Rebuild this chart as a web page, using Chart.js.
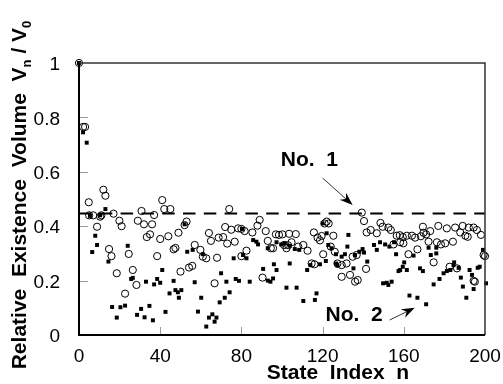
<!DOCTYPE html>
<html>
<head>
<meta charset="UTF-8">
<title>Relative existence volume</title>
<script src="https://cdn.jsdelivr.net/npm/chart.js"></script>
<style>
  body { margin: 0; background: #fff; }
  canvas { display: block; }
</style>
</head>
<body>
<canvas id="myChart" width="503" height="384"></canvas>
<script>
// open circles (No. 1)
const openX = [0, 2, 3, 4.8, 5, 7, 8.9, 10.4, 11, 12, 13, 14.8, 16, 17, 18.6, 19.9, 21, 22.7, 24.5, 26.5,
  28.3, 29, 30.8, 32, 33.4, 35, 36, 37, 38.5, 40, 41, 42, 44, 45, 46.6, 47.5, 49, 50, 52, 53,
  54.2, 55.8, 57, 59.8, 61, 62.7, 64, 65, 66.8, 68, 68.8, 71, 72, 73, 74, 75, 76.7, 78.4, 80, 80,
  81.6, 82.5, 85.4, 87.9, 89, 90.4, 92, 93, 94.5, 95.6, 97, 98.5, 100.2, 101, 102.2, 103, 103.5, 104.7, 106.8, 108,
  110.5, 112.6, 114.6, 115.7, 116, 117.5, 118.7, 119.5, 120.3, 121, 122, 123, 124, 125.3, 126, 127.3, 129.4, 129.4, 131.8, 133.5,
  134.8, 136, 136.8, 137.3, 139.3, 140.4, 141.4, 141.7, 143.7, 146.7, 148.5, 149.6, 152.4, 153.6, 154.9, 156.5, 158, 158.2, 159.5, 159.8,
  161.5, 162.3, 164, 165.6, 166.7, 168.4, 169.4, 169.7, 171, 172.2, 173, 174.7, 176.3, 177, 178.3, 180.4, 181.2, 182.6, 184.2, 185.3,
  186.2, 187.8, 189, 190.3, 191.5, 192, 194.4, 194.4, 195, 196, 198, 199.3, 200];
const openY = [1, 0.765, 0.765, 0.488, 0.44, 0.44, 0.398, 0.435, 0.44, 0.534, 0.512, 0.316, 0.29, 0.446, 0.227, 0.42, 0.40, 0.152, 0.298, 0.239,
  0.184, 0.42, 0.456, 0.407, 0.36, 0.37, 0.407, 0.441, 0.29, 0.353, 0.496, 0.463, 0.363, 0.463, 0.315, 0.32, 0.376, 0.233, 0.404, 0.417,
  0.248, 0.254, 0.331, 0.313, 0.288, 0.282, 0.375, 0.346, 0.19, 0.284, 0.358, 0.36, 0.397, 0.336, 0.463, 0.387, 0.343, 0.392, 0.39, 0.29,
  0.382, 0.31, 0.377, 0.402, 0.423, 0.211, 0.382, 0.346, 0.319, 0.319, 0.37, 0.368, 0.37, 0.331, 0.319, 0.33, 0.372, 0.341, 0.371, 0.325,
  0.331, 0.31, 0.263, 0.377, 0.26, 0.358, 0.348, 0.364, 0.297, 0.41, 0.417, 0.41, 0.325, 0.365, 0.306, 0.263, 0.257, 0.214, 0.263, 0.221,
  0.288, 0.196, 0.294, 0.202, 0.45, 0.419, 0.243, 0.377, 0.386, 0.374, 0.412, 0.398, 0.395, 0.386, 0.333, 0.365, 0.367, 0.341, 0.36, 0.337,
  0.365, 0.297, 0.365, 0.358, 0.315, 0.363, 0.398, 0.376, 0.37, 0.343, 0.382, 0.267, 0.341, 0.401, 0.333, 0.337, 0.392, 0.251, 0.343, 0.395,
  0.245, 0.377, 0.401, 0.365, 0.361, 0.395, 0.395, 0.199, 0.196, 0.386, 0.368, 0.294, 0.29];

// filled squares (No. 2)
const filledX = [0, 2, 3.8, 5.4, 6.5, 8, 8.9, 10.4, 13, 14.5, 16.3, 18.6, 20.4, 22.7, 24, 25.7, 26.5, 28.6, 30.6, 32.3,
  33, 34.7, 36.4, 37, 38.5, 40, 41, 42.6, 44.6, 46.6, 47.5, 48.7, 49.2, 50.4, 52, 53.3, 56, 57, 58.6, 60.2,
  61, 62.7, 64, 65.7, 66.8, 67.7, 69.3, 70, 71.8, 72.6, 74.2, 76.2, 77.2, 78.8, 80.3, 80.8, 82.5, 84.1, 85.8, 87.4,
  88.2, 90.7, 93, 93, 94.3, 95.6, 96, 97.3, 97.3, 99.6, 101.4, 102.2, 103.8, 103.8, 106.3, 107.2, 108.5, 110.5, 112.4, 114,
  116.2, 117, 118.7, 120, 121.6, 122, 122.8, 124.4, 126.6, 126.6, 127.3, 129.4, 131, 132.2, 132.7, 135.2, 136, 138.1, 139.7, 140.4,
  142, 145.3, 146.7, 148.3, 149.8, 150.8, 151.6, 152.4, 152.9, 154, 155.2, 156.2, 157.4, 158.2, 159.5, 160.2, 161.5, 162.8, 164.8, 166.7,
  168, 169.4, 171, 172.2, 173.3, 174.7, 176, 176, 177.6, 179.6, 181.2, 182.9, 184.5, 184.8, 187, 188.1, 189.1, 190.8, 192.4, 193.6,
  194.4, 196.4, 197.4, 199, 200.5];
const filledY = [1, 0.745, 0.707, 0.438, 0.305, 0.365, 0.331, 0.44, 0.463, 0.27, 0.103, 0.064, 0.102, 0.108, 0.328, 0.206, 0.21, 0.074, 0.096, 0.065,
  0.196, 0.107, 0.054, 0.186, 0.206, 0.192, 0.239, 0.085, 0.153, 0.199, 0.165, 0.157, 0.137, 0.165, 0.407, 0.306, 0.313, 0.194, 0.086, 0.137,
  0.297, 0.031, 0.064, 0.076, 0.049, 0.064, 0.12, 0.227, 0.137, 0.196, 0.157, 0.282, 0.206, 0.199, 0.39, 0.294, 0.282, 0.196, 0.349, 0.343,
  0.333, 0.243, 0.319, 0.2, 0.196, 0.208, 0.26, 0.239, 0.341, 0.333, 0.337, 0.174, 0.328, 0.263, 0.316, 0.174, 0.313, 0.125, 0.239, 0.257,
  0.129, 0.153, 0.26, 0.41, 0.272, 0.374, 0.331, 0.319, 0.297, 0.263, 0.255, 0.288, 0.297, 0.325, 0.368, 0.245, 0.294, 0.306, 0.316, 0.303,
  0.27, 0.331, 0.313, 0.341, 0.19, 0.333, 0.192, 0.184, 0.325, 0.196, 0.341, 0.297, 0.235, 0.239, 0.251, 0.267, 0.239, 0.145, 0.292, 0.137,
  0.245, 0.235, 0.113, 0.321, 0.294, 0.186, 0.321, 0.3, 0.206, 0.227, 0.235, 0.239, 0.257, 0.267, 0.247, 0.211, 0.178, 0.137, 0.239, 0.221,
  0.169, 0.247, 0.251, 0.313, 0.19];

const refLevel = 0.447;
const xTicks = [0, 40, 80, 120, 160, 200];
const yTicks = [0, 0.2, 0.4, 0.6, 0.8, 1];

function pairs(xs, ys) {
  return xs.map((x, i) => ({ x: x, y: ys[i] }));
}

// frame, inner ticks, axis titles and the two arrows
const extras = {
  id: 'extras',
  afterDraw(chart) {
    const ctx = chart.ctx;
    const a = chart.chartArea;
    const sx = chart.scales.x, sy = chart.scales.y;
    ctx.save();

    // inner ticks
    ctx.strokeStyle = '#9a9a9a';
    ctx.lineWidth = 1;
    yTicks.slice(1, -1).forEach(v => {
      const y = Math.round(sy.getPixelForValue(v)) + 0.5;
      ctx.beginPath(); ctx.moveTo(a.left, y); ctx.lineTo(a.left + 9, y); ctx.stroke();
    });
    xTicks.slice(1, -1).forEach(v => {
      const x = Math.round(sx.getPixelForValue(v)) + 0.5;
      ctx.beginPath(); ctx.moveTo(x, a.bottom); ctx.lineTo(x, a.bottom - 8); ctx.stroke();
    });

    // frame
    ctx.strokeStyle = '#333';
    ctx.lineWidth = 1.5;
    ctx.beginPath();
    ctx.moveTo(a.left, a.top); ctx.lineTo(a.right, a.top); ctx.lineTo(a.right, a.bottom);
    ctx.stroke();
    ctx.strokeStyle = '#000';
    ctx.lineWidth = 2;
    ctx.beginPath();
    ctx.moveTo(a.left, a.top); ctx.lineTo(a.left, a.bottom); ctx.lineTo(a.right, a.bottom);
    ctx.stroke();

    ctx.fillStyle = '#000';
    // x title
    ctx.font = 'bold 21px "Liberation Sans", Arial, sans-serif';
    ctx.textAlign = 'center';
    ctx.textBaseline = 'alphabetic';
    ctx.fillText('State  Index  n', 338, 379);

    // y title with subscripts
    ctx.save();
    ctx.translate(26, 195);
    ctx.rotate(-Math.PI / 2);
    const big = 'bold 21px "Liberation Sans", Arial, sans-serif';
    const small = 'bold 13px "Liberation Sans", Arial, sans-serif';
    const parts = [
      ['Relative  Existence  Volume  V', big, 0],
      ['n', small, 5],
      [' / V', big, 0],
      ['0', small, 5]
    ];
    let total = 0;
    parts.forEach(p => { ctx.font = p[1]; total += ctx.measureText(p[0]).width; });
    let px = -total / 2;
    ctx.textAlign = 'left';
    parts.forEach(p => {
      ctx.font = p[1];
      ctx.fillText(p[0], px, p[2]);
      px += ctx.measureText(p[0]).width;
    });
    ctx.restore();

    // annotations
    ctx.font = 'bold 21px "Liberation Sans", Arial, sans-serif';
    ctx.textAlign = 'center';
    ctx.textBaseline = 'middle';
    ctx.fillText('No.  1', sx.getPixelForValue(113.5), sy.getPixelForValue(0.643));
    ctx.fillText('No.  2', sx.getPixelForValue(135.5), sy.getPixelForValue(0.074));

    arrow(ctx, sx.getPixelForValue(120), sy.getPixelForValue(0.577),
               sx.getPixelForValue(134.8), sy.getPixelForValue(0.478));
    arrow(ctx, sx.getPixelForValue(153), sy.getPixelForValue(0.055),
               sx.getPixelForValue(165.4), sy.getPixelForValue(0.1));
    ctx.restore();
  }
};

function arrow(ctx, x1, y1, x2, y2) {
  const ang = Math.atan2(y2 - y1, x2 - x1);
  ctx.strokeStyle = '#333';
  ctx.lineWidth = 1;
  ctx.beginPath(); ctx.moveTo(x1, y1); ctx.lineTo(x2 - 8 * Math.cos(ang), y2 - 8 * Math.sin(ang)); ctx.stroke();
  ctx.fillStyle = '#000';
  ctx.beginPath();
  ctx.moveTo(x2, y2);
  ctx.lineTo(x2 - 14 * Math.cos(ang - 0.35), y2 - 14 * Math.sin(ang - 0.35));
  ctx.lineTo(x2 - 9 * Math.cos(ang), y2 - 9 * Math.sin(ang));
  ctx.lineTo(x2 - 14 * Math.cos(ang + 0.35), y2 - 14 * Math.sin(ang + 0.35));
  ctx.closePath();
  ctx.fill();
}

const config = {
  type: 'scatter',
  data: {
    datasets: [
      {
        label: 'No. 1',
        data: pairs(openX, openY),
        pointStyle: 'circle',
        pointRadius: 3.6,
        borderWidth: 1,
        borderColor: '#000',
        backgroundColor: 'rgba(0,0,0,0)',
        clip: false
      },
      {
        label: 'No. 2',
        data: pairs(filledX, filledY),
        pointStyle: 'rect',
        pointRadius: 2.8,
        borderWidth: 0,
        borderColor: '#000',
        backgroundColor: '#000',
        clip: false
      },
      {
        type: 'line',
        label: 'level',
        data: [{ x: 0, y: refLevel }, { x: 200, y: refLevel }],
        borderColor: '#000',
        borderWidth: 2,
        borderDash: [12.5, 8.3],
        pointRadius: 0
      }
    ]
  },
  options: {
    responsive: false,
    animation: false,
    devicePixelRatio: 1,
    layout: { padding: { top: 63, right: 18, left: 0, bottom: 0 } },
    plugins: { legend: { display: false }, tooltip: { enabled: false } },
    scales: {
      x: {
        type: 'linear', min: 0, max: 200,
        afterBuildTicks: s => { s.ticks = xTicks.map(v => ({ value: v })); },
        afterFit: s => { s.height = 49; },
        grid: { display: false },
        border: { display: false },
        ticks: { color: '#000', padding: 2, maxRotation: 0, autoSkip: false,
                 callback: v => String(v),
                 font: { family: '"Liberation Sans", Arial, sans-serif', size: 19 } }
      },
      y: {
        min: 0, max: 1,
        afterBuildTicks: s => { s.ticks = yTicks.map(v => ({ value: v })); },
        afterFit: s => { s.width = 79; },
        grid: { display: false },
        border: { display: false },
        ticks: { color: '#000', padding: 11, labelOffset: 2,
                 callback: v => String(v),
                 font: { family: '"Liberation Sans", Arial, sans-serif', size: 19 } }
      }
    }
  },
  plugins: [extras]
};

new Chart(document.getElementById('myChart'), config);
</script>
</body>
</html>
